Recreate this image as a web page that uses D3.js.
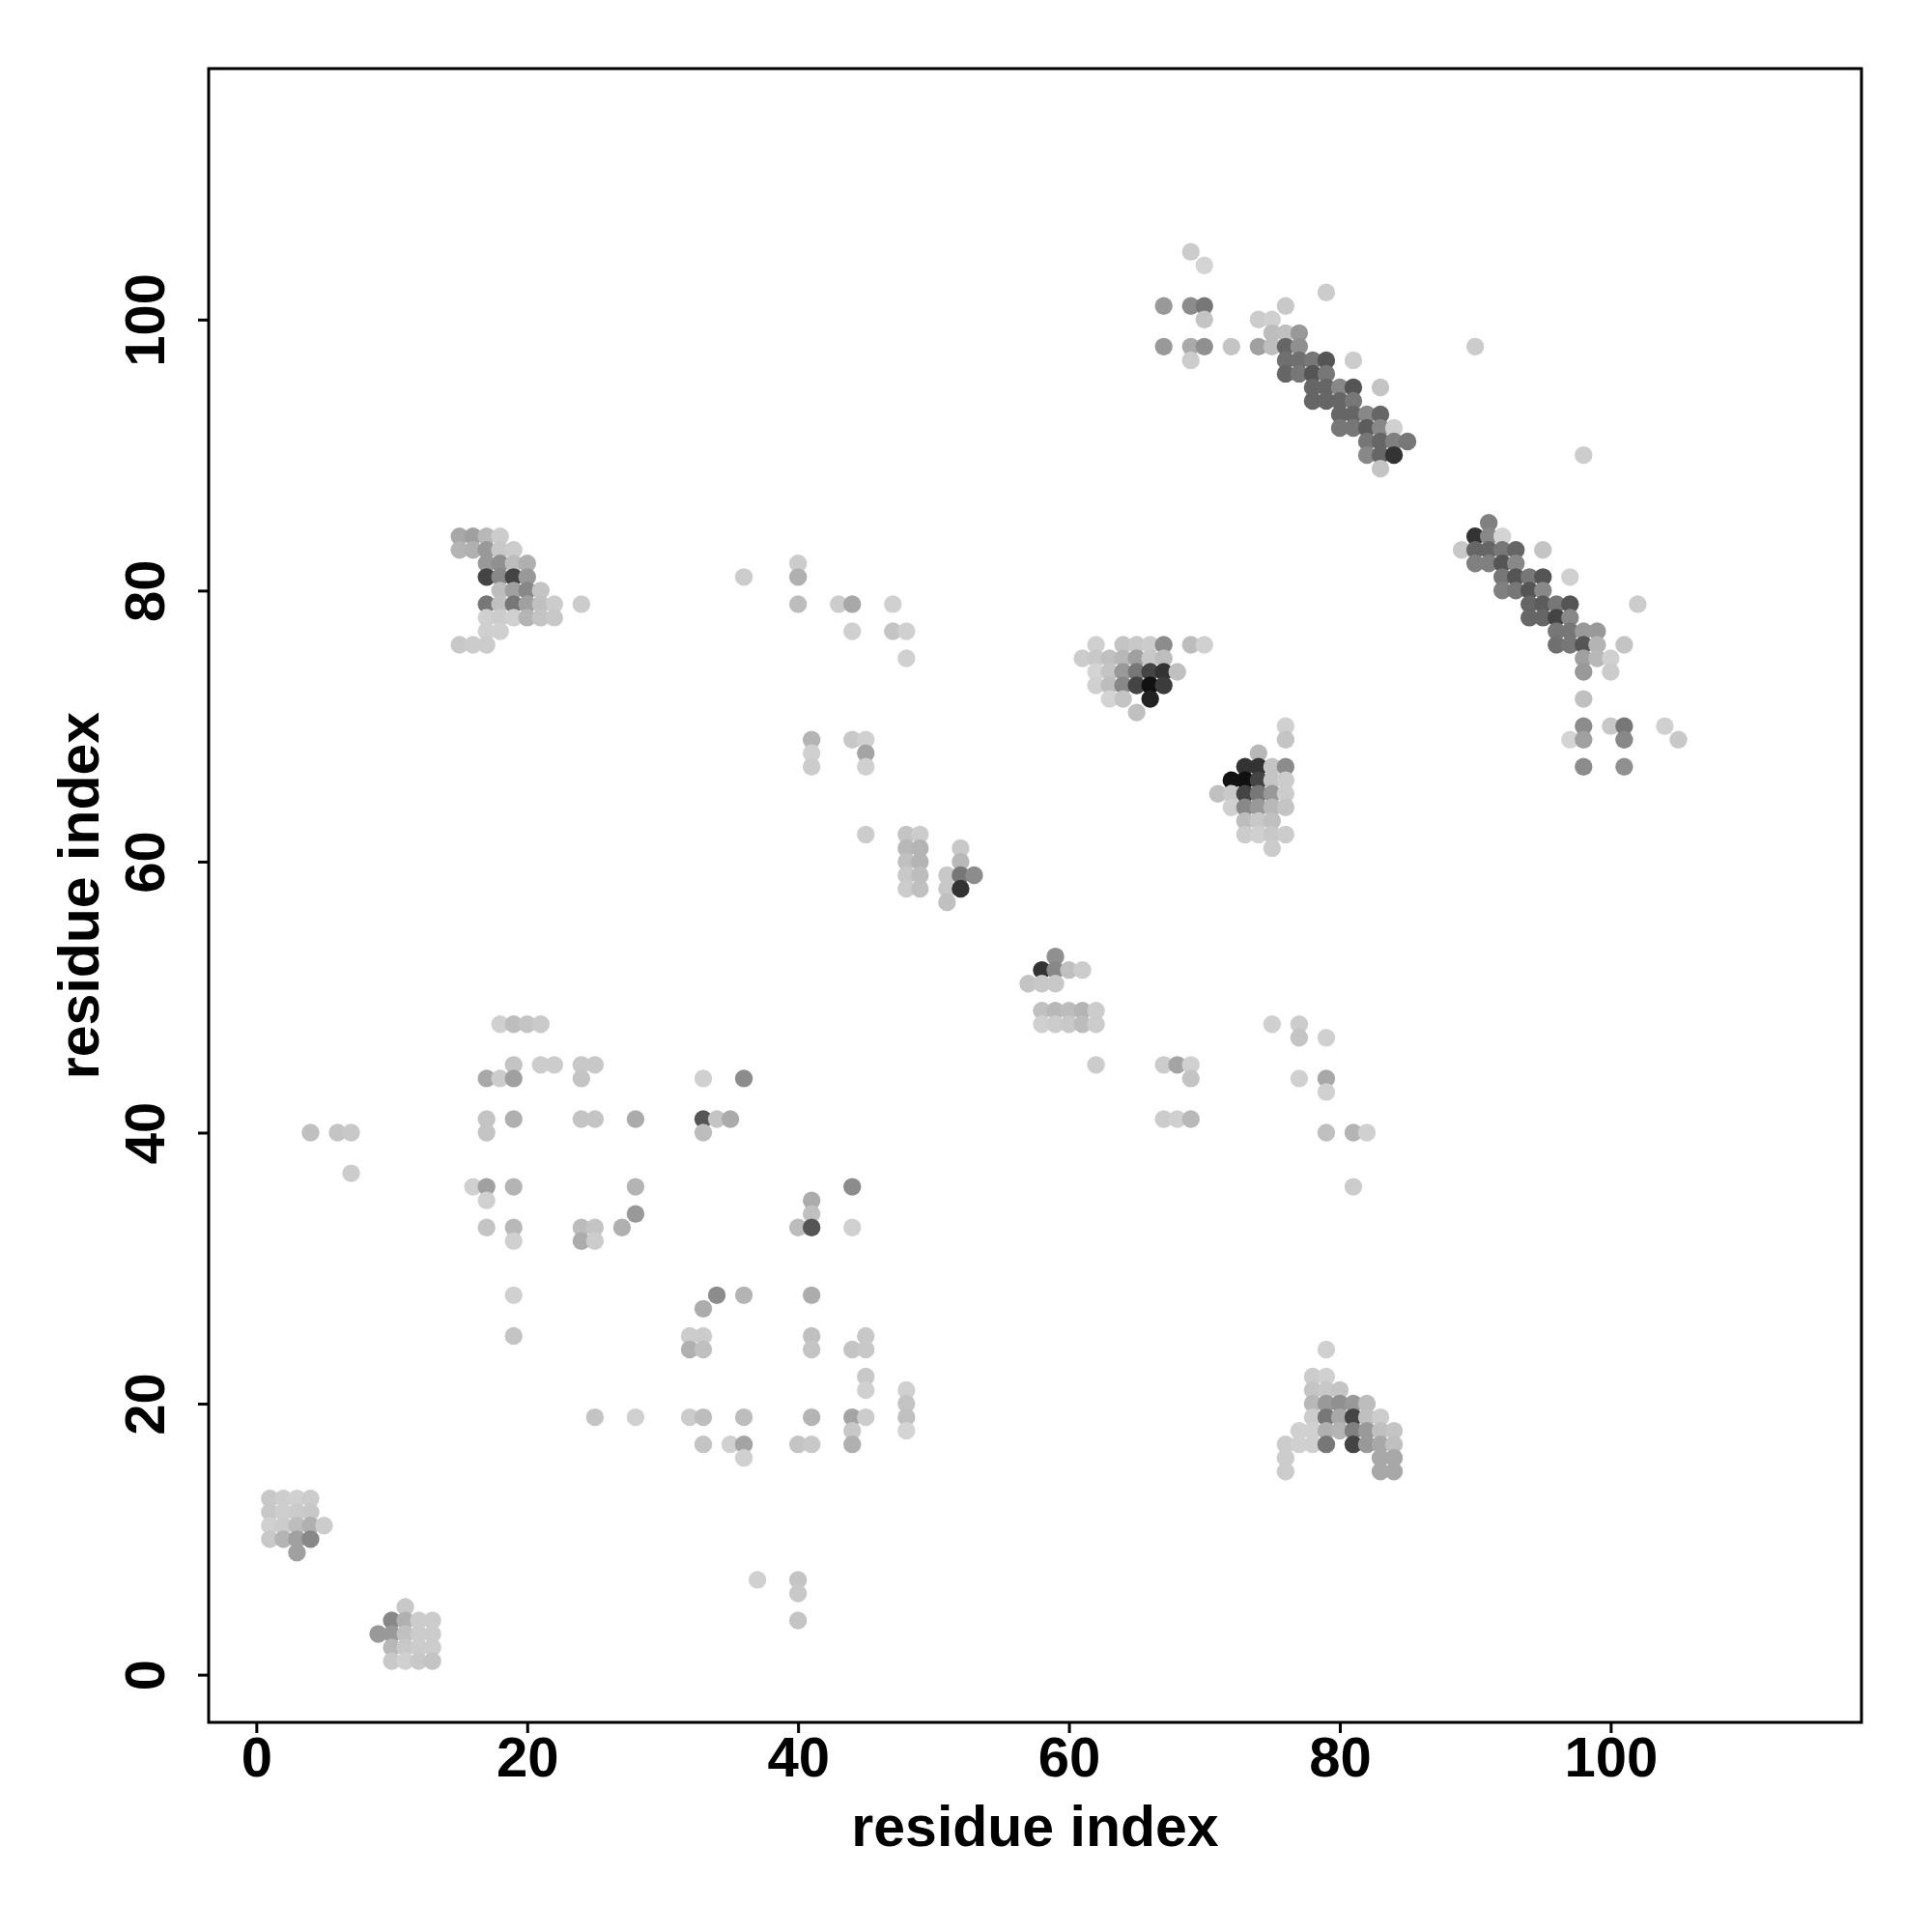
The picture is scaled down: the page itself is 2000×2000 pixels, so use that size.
<!DOCTYPE html>
<html>
<head>
<meta charset="utf-8">
<script src="https://cdn.jsdelivr.net/npm/d3@7"></script>
<style>
  html, body { margin: 0; padding: 0; background: #ffffff; }
  svg { display: block; }
  text { font-family: "Liberation Sans", Arial, Helvetica, sans-serif; font-weight: bold; }
</style>
</head>
<body>
<script>
// ---- data: [residue i, residue j, grey level 0-255] ----
const clusterA = [
  [1,13,200],[2,13,205],[3,13,208],[4,13,204],
  [1,12,200],[2,12,206],[3,12,203],[4,12,200],
  [1,11,208],[2,11,204],[3,11,189],[4,11,176],[5,11,204],
  [1,10,200],[2,10,180],[3,10,160],[4,10,136],
  [3,9,160]
];
const clusterB = [
  [11,5,200],
  [10,4,136],[11,4,176],[12,4,204],[13,4,204],
  [9,3,153],[10,3,153],[11,3,192],[12,3,204],[13,3,204],
  [10,2,184],[11,2,200],[12,2,204],[13,2,204],
  [10,1,200],[11,1,208],[12,1,200],[13,1,196]
];
const lowerLeft = [
  [4,40,192],[6,40,196],[7,40,200],[7,37,204],
  [18,48,208],[19,48,189],[20,48,196],[21,48,202],
  [19,45,196],[21,45,204],[22,45,204],[24,45,200],[25,45,200],
  [17,44,168],[18,44,204],[19,44,160],[24,44,196],
  [17,41,196],[19,41,176],[24,41,196],[25,41,196],[28,41,171],
  [17,40,196],
  [16,36,208],[17,36,160],[19,36,180],[28,36,180],
  [17,35,208],
  [28,34,153],
  [17,33,196],[19,33,184],[24,33,188],[25,33,196],[27,33,176],
  [19,32,208],[24,32,172],[25,32,204],
  [19,28,208],[19,25,196],[25,19,196],[28,19,208]
];
const lowerMid = [
  [33,44,208],[36,44,140],
  [33,41,85],[34,41,196],[35,41,171],
  [33,40,189],
  [44,36,140],[41,35,172],[41,34,192],
  [40,33,188],[41,33,85],[44,33,208],
  [34,28,140],[36,28,180],[41,28,172],
  [33,27,172],
  [32,25,204],[33,25,204],[41,25,192],[45,25,200],
  [32,24,176],[33,24,192],[41,24,196],[44,24,196],[45,24,200],
  [45,22,200],[45,21,208],[48,21,208],[48,20,196],
  [32,19,204],[33,19,189],[36,19,189],[41,19,180],[44,19,164],[45,19,204],[48,19,192],
  [44,18,200],[48,18,212],
  [33,17,196],[35,17,208],[36,17,164],[40,17,196],[41,17,200],[44,17,176],
  [36,16,208],
  [37,7,208],[40,7,196],[40,6,200],[40,4,196]
];
const upperLeft = [
  [15,84,168],[16,84,160],[17,84,184],[18,84,204],
  [15,83,180],[16,83,176],[17,83,153],[18,83,200],[19,83,204],
  [17,82,153],[18,82,144],[19,82,189],[20,82,176],
  [17,81,68],[18,81,136],[19,81,68],[20,81,153],
  [18,80,189],[19,80,160],[20,80,136],[21,80,196],
  [17,79,119],[18,79,192],[19,79,119],[20,79,160],[21,79,192],[22,79,204],[24,79,204],
  [17,78,208],[18,78,204],[19,78,208],[20,78,180],[21,78,196],[22,78,200],
  [17,77,208],[18,77,208],
  [15,76,200],[16,76,204],[17,76,204]
];
const middle = [
  [40,82,204],[36,81,204],[40,81,176],
  [40,79,189],[43,79,204],[44,79,168],[47,79,208],
  [44,77,208],[47,77,196],[48,77,208],[48,75,208],
  [41,69,180],[44,69,200],[45,69,208],
  [41,68,208],[45,68,164],[41,67,204],[45,67,208],
  [45,62,204],
  [48,62,196],[49,62,204],
  [48,61,184],[49,61,180],[52,61,200],
  [48,60,192],[49,60,180],[52,60,184],
  [48,59,200],[49,59,189],[51,59,200],[52,59,119],[53,59,140],
  [48,58,204],[49,58,192],[51,58,200],[52,58,51],
  [51,57,192],
  [59,53,144],
  [58,52,51],[59,52,136],[60,52,192],[61,52,204],
  [57,51,196],[58,51,200],[59,51,200],
  [58,49,192],[59,49,184],[60,49,188],[61,49,180],[62,49,204],
  [58,48,208],[59,48,204],[60,48,200],[61,48,188],[62,48,204],
  [62,45,204],[67,45,204],[68,45,164],[69,45,208],[69,44,196],
  [67,41,204],[68,41,208],[69,41,184]
];
const helixA = [
  [62,76,208],[64,76,196],[65,76,200],[66,76,204],[67,76,140],[69,76,189],[70,76,208],
  [61,75,204],[62,75,200],[63,75,192],[64,75,184],[65,75,160],[66,75,200],[67,75,189],
  [62,74,212],[63,74,196],[64,74,153],[65,74,119],[66,74,68],[67,74,51],[68,74,192],
  [62,73,208],[63,73,189],[64,73,136],[65,73,68],[66,73,17],[67,73,60],
  [63,72,212],[64,72,196],[66,72,34],
  [65,71,192]
];
const helixB = [
  [76,70,208],[76,69,196],[74,68,184],
  [73,67,51],[74,67,51],[75,67,196],[76,67,140],
  [72,66,17],[73,66,17],[74,66,68],[75,66,196],[76,66,204],
  [71,65,192],[72,65,200],[73,65,68],[74,65,119],[75,65,153],[76,65,204],
  [72,64,208],[73,64,136],[74,64,153],[75,64,184],[76,64,196],
  [73,63,189],[74,63,200],[75,63,192],
  [73,62,204],[74,62,208],[75,62,200],[76,62,204],
  [75,61,204]
];
const strandTop = [
  [69,105,204],[70,104,212],[79,102,204],
  [67,101,153],[69,101,140],[70,101,119],[76,101,200],
  [70,100,196],[74,100,204],[75,100,208],
  [75,99,189],[76,99,192],[77,99,153],
  [67,98,153],[69,98,170],[70,98,144],[72,98,196],[74,98,160],[75,98,189],[76,98,102],[77,98,144],
  [69,97,204],[76,97,112],[77,97,112],[78,97,119],[79,97,85],[81,97,204],
  [76,96,102],[77,96,119],[78,96,85],[79,96,119],
  [78,95,102],[79,95,102],[80,95,136],[81,95,85],[83,95,196],
  [78,94,102],[79,94,102],[80,94,102],[81,94,119],
  [80,93,102],[81,93,102],[82,93,136],[83,93,102],
  [80,92,119],[81,92,119],[82,92,92],[83,92,136],[84,92,208],
  [82,91,119],[83,91,102],[84,91,128],[85,91,119],
  [82,90,136],[83,90,102],[84,90,51],
  [83,89,196]
];
const strandRight = [
  [90,98,204],[98,90,204],
  [91,85,128],
  [90,84,51],[91,84,136],[92,84,212],
  [89,83,200],[90,83,102],[91,83,102],[92,83,119],[93,83,102],[95,83,196],
  [90,82,128],[91,82,128],[92,82,85],[93,82,136],
  [92,81,119],[93,81,85],[94,81,119],[95,81,85],[97,81,208],
  [92,80,128],[93,80,119],[94,80,85],[95,80,136],
  [94,79,102],[95,79,92],[96,79,119],[97,79,85],[102,79,204],
  [94,78,102],[95,78,102],[96,78,68],[97,78,136],
  [96,77,119],[97,77,119],[98,77,153],[99,77,153],
  [96,76,112],[97,76,119],[98,76,85],[99,76,180],[101,76,196],
  [98,75,160],[99,75,184],[100,75,208],
  [98,74,153],[100,74,204],
  [98,72,192],
  [98,70,140],[100,70,200],[101,70,119],[104,70,208],
  [97,69,212],[98,69,160],[101,69,136],[105,69,200],
  [98,67,140],[101,67,144]
];
const lowerRight = [
  [75,48,208],[77,48,204],[77,47,196],[79,47,208],
  [77,44,208],[79,44,168],[79,43,208],
  [79,40,192],[81,40,180],[82,40,208],
  [81,36,204],
  [79,24,208],
  [78,22,204],[79,22,208],
  [78,21,196],[79,21,200],[80,21,196],
  [78,20,184],[79,20,153],[80,20,144],[81,20,153],[82,20,189],
  [78,19,204],[79,19,119],[80,19,168],[81,19,68],[82,19,192],[83,19,204],
  [77,18,208],[78,18,208],[79,18,176],[80,18,180],[81,18,128],[82,18,153],[83,18,192],[84,18,196],
  [76,17,204],[77,17,208],[78,17,208],[79,17,119],[81,17,68],[82,17,153],[83,17,168],[84,17,192],
  [76,16,204],[83,16,168],[84,16,168],
  [76,15,204],[83,15,168],[84,15,168]
];
const xTicks = [0, 20, 40, 60, 80, 100];
const yTicks = [0, 20, 40, 60, 80, 100];
const xLabel = "residue index";
const yLabel = "residue index";

// ---- layout ----
const W = 2000, H = 2000;
const box = { left: 216, right: 1927, top: 71, bottom: 1783 };
const dom = [-3.52, 118.52];

const svg = d3.select("body").append("svg")
  .attr("width", W).attr("height", H)
  .attr("viewBox", `0 0 ${W} ${H}`);
svg.append("rect").attr("width", W).attr("height", H).attr("fill", "#fff");

const x = d3.scaleLinear().domain(dom).range([box.left, box.right]);
const y = d3.scaleLinear().domain(dom).range([box.bottom, box.top]);

const allPoints = [].concat(clusterA, clusterB, lowerLeft, lowerMid, upperLeft,
  middle, helixA, helixB, strandTop, strandRight, lowerRight);

// clip to box
svg.append("clipPath").attr("id", "plotclip")
  .append("rect").attr("x", box.left).attr("y", box.top)
  .attr("width", box.right - box.left).attr("height", box.bottom - box.top);

svg.append("g").attr("clip-path", "url(#plotclip)")
  .selectAll("circle").data(allPoints).join("circle")
  .attr("cx", d => x(d[0]))
  .attr("cy", d => y(d[1]))
  .attr("r", 9.2)
  .attr("fill", d => d3.rgb(d[2], d[2], d[2]).toString());

// box
svg.append("rect")
  .attr("x", box.left).attr("y", box.top)
  .attr("width", box.right - box.left).attr("height", box.bottom - box.top)
  .attr("fill", "none").attr("stroke", "#000").attr("stroke-width", 3);

// x axis
const xAxis = d3.axisBottom(x).tickValues(xTicks).tickSize(11).tickPadding(0).tickFormat(d3.format("d"));
const gx = svg.append("g").attr("transform", `translate(0,${box.bottom})`).call(xAxis);
gx.select(".domain").remove();
gx.selectAll(".tick line").attr("stroke", "#000").attr("stroke-width", 3);
gx.selectAll(".tick text")
  .attr("y", 56).attr("dy", null)
  .attr("fill", "#000")
  .style("font-size", "58px").style("font-weight", "bold")
  .style("font-family", '"Liberation Sans", Arial, Helvetica, sans-serif');

// y axis
const yAxis = d3.axisLeft(y).tickValues(yTicks).tickSize(11).tickPadding(0).tickFormat(d3.format("d"));
const gy = svg.append("g").attr("transform", `translate(${box.left},0)`).call(yAxis);
gy.select(".domain").remove();
gy.selectAll(".tick line").attr("stroke", "#000").attr("stroke-width", 3);
gy.selectAll(".tick text")
  .attr("x", null).attr("dy", null)
  .attr("text-anchor", "middle")
  .attr("transform", "translate(-46,0) rotate(-90)")
  .attr("fill", "#000")
  .style("font-size", "58px").style("font-weight", "bold")
  .style("font-family", '"Liberation Sans", Arial, Helvetica, sans-serif');

// axis titles
svg.append("text")
  .attr("x", (box.left + box.right) / 2).attr("y", 1911)
  .attr("text-anchor", "middle")
  .style("font-size", "59px")
  .text(xLabel);
svg.append("text")
  .attr("transform", `translate(102,${(box.top + box.bottom) / 2}) rotate(-90)`)
  .attr("text-anchor", "middle")
  .style("font-size", "59px")
  .text(yLabel);
</script>
</body>
</html>
